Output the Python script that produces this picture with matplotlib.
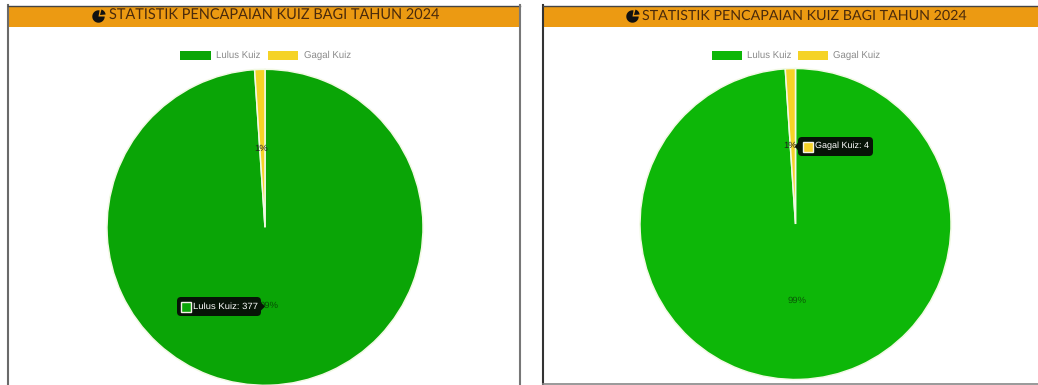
import matplotlib
matplotlib.use("Agg")
import matplotlib.pyplot as plt
from matplotlib.patches import Rectangle, FancyBboxPatch, Polygon, Wedge

plt.rcParams["text.hinting"] = "none"

W, H = 1038, 385

categories = ["Lulus Kuiz", "Gagal Kuiz"]
quiz_counts = [377, 4]
percent_labels = ["99%", "1%"]
title_text = "STATISTIK PENCAPAIAN KUIZ BAGI TAHUN 2024"

ORANGE = "#EC9A12"
YELLOW = "#F5D327"
TIP_BG = "#071407"

fig = plt.figure(figsize=(W / 100, H / 100), dpi=100, facecolor="white")

# Overlay in pixel units (y downward) for the panel chrome and labels
overlay = fig.add_axes([0, 0, 1, 1], zorder=5)
overlay.set_xlim(0, W)
overlay.set_ylim(H, 0)
overlay.axis("off")


def pie_axes(cx, cy, r, green):
    ax = fig.add_axes([(cx - r) / W, 1 - (cy + r) / H, 2 * r / W, 2 * r / H], zorder=2)
    wedges, _ = ax.pie(quiz_counts, colors=[green, YELLOW], startangle=90, counterclock=False,
                       radius=1, wedgeprops=dict(edgecolor="#f2f9e4", linewidth=1.1))
    for wedge in wedges:
        wedge.set_clip_on(False)
    ax.set_xlim(-1, 1)
    ax.set_ylim(-1, 1)
    ax.patch.set_alpha(0)
    return ax


def panel(x0, x1, title_x, icon_x, title_size, side_color):
    overlay.add_patch(Rectangle((x0, 6), x1 - x0, 21, fc=ORANGE, ec="none", zorder=1))
    overlay.plot([x0, x0], [5, H], color=side_color, lw=1.5, zorder=2)
    overlay.plot([x0, x1], [5.5, 5.5], color="#444444", lw=1.0, zorder=2)
    overlay.text(title_x, 16, title_text, fontsize=title_size, family="Lato", color="#4a2a0c",
                 ha="left", va="center", zorder=3)
    # Small pie glyph in front of the title: a disc with a detached upper-right slice
    overlay.add_patch(Wedge((icon_x - 0.5, 16.5), 6.2, 0, 280, fc="#111111", ec="none", zorder=3))
    overlay.add_patch(Wedge((icon_x + 1, 15), 5.6, 285, 355, fc="#111111", ec="none", zorder=3))


def legend(items):
    for (sx0, sx1, tx), name, color in items:
        overlay.add_patch(Rectangle((sx0, 51), sx1 - sx0, 9, fc=color, ec="none", zorder=3))
        overlay.text(tx, 55, name, fontsize=6.95, family="Liberation Sans", color="#8a8a8a",
                     ha="left", va="center", zorder=3)


def tooltip(x0, x1, y0, y1, tip_x, swatch_x, swatch_color, text, size):
    overlay.add_patch(FancyBboxPatch((x0 + 3, y0 + 3), x1 - x0 - 6, y1 - y0 - 6,
                                     boxstyle="round,pad=3,rounding_size=4",
                                     fc=TIP_BG, ec="none", zorder=7))
    ym = (y0 + y1) / 2
    base = x1 if tip_x > x1 else x0
    overlay.add_patch(Polygon([(base, ym - 4), (tip_x, ym), (base, ym + 4)],
                              fc=TIP_BG, ec="none", zorder=7))
    overlay.add_patch(Rectangle((swatch_x, ym - 5), 10, 10, fc=swatch_color, ec="#f4f4e8",
                                lw=1.0, zorder=8))
    overlay.text(swatch_x + 12, ym - 0.3, text, fontsize=size, family="Liberation Sans",
                 color="white", ha="left", va="center", zorder=8)


# Left panel
panel(8, 520, 109, 99, 10.46, "#6a6a6a")
overlay.plot([519.5, 519.5], [5, H], color="#777777", lw=1.5, zorder=2)
pie_axes(265, 227.3, 158, "#0AA506")
legend([((180, 211, 216), categories[0], "#0AA506"),
        ((268, 298, 304), categories[1], YELLOW)])
overlay.text(261, 148.5, percent_labels[1], fontsize=6.8, family="Liberation Sans",
             color="#222222", ha="center", va="center", zorder=4)
overlay.text(269, 306, percent_labels[0], fontsize=6.8, family="Liberation Sans",
             color="#064f04", ha="center", va="center", zorder=4)
tooltip(177, 261, 297, 316, 265, 181, "#0AA506",
        f"{categories[0]}: {quiz_counts[0]}", 6.8)

# Right panel
panel(543, W, 642, 633, 10.24, "#333333")
overlay.plot([543, W], [384, 384], color="#888888", lw=1.2, zorder=2)
pie_axes(795.5, 224, 155.5, "#0DB708")
legend([((712, 742, 747), categories[0], "#0DB708"),
        ((798, 828, 833), categories[1], YELLOW)])
overlay.text(790, 146, percent_labels[1], fontsize=6.8, family="Liberation Sans",
             color="#222222", ha="center", va="center", zorder=4)
overlay.text(797, 300.5, percent_labels[0], fontsize=6.8, family="Liberation Sans",
             color="#0a5a06", ha="center", va="center", zorder=4)
tooltip(798, 873, 137, 156, 795, 803, YELLOW,
        f"{categories[1]}: {quiz_counts[1]}", 6.5)

fig.savefig("out.png", dpi=100, facecolor="white")
